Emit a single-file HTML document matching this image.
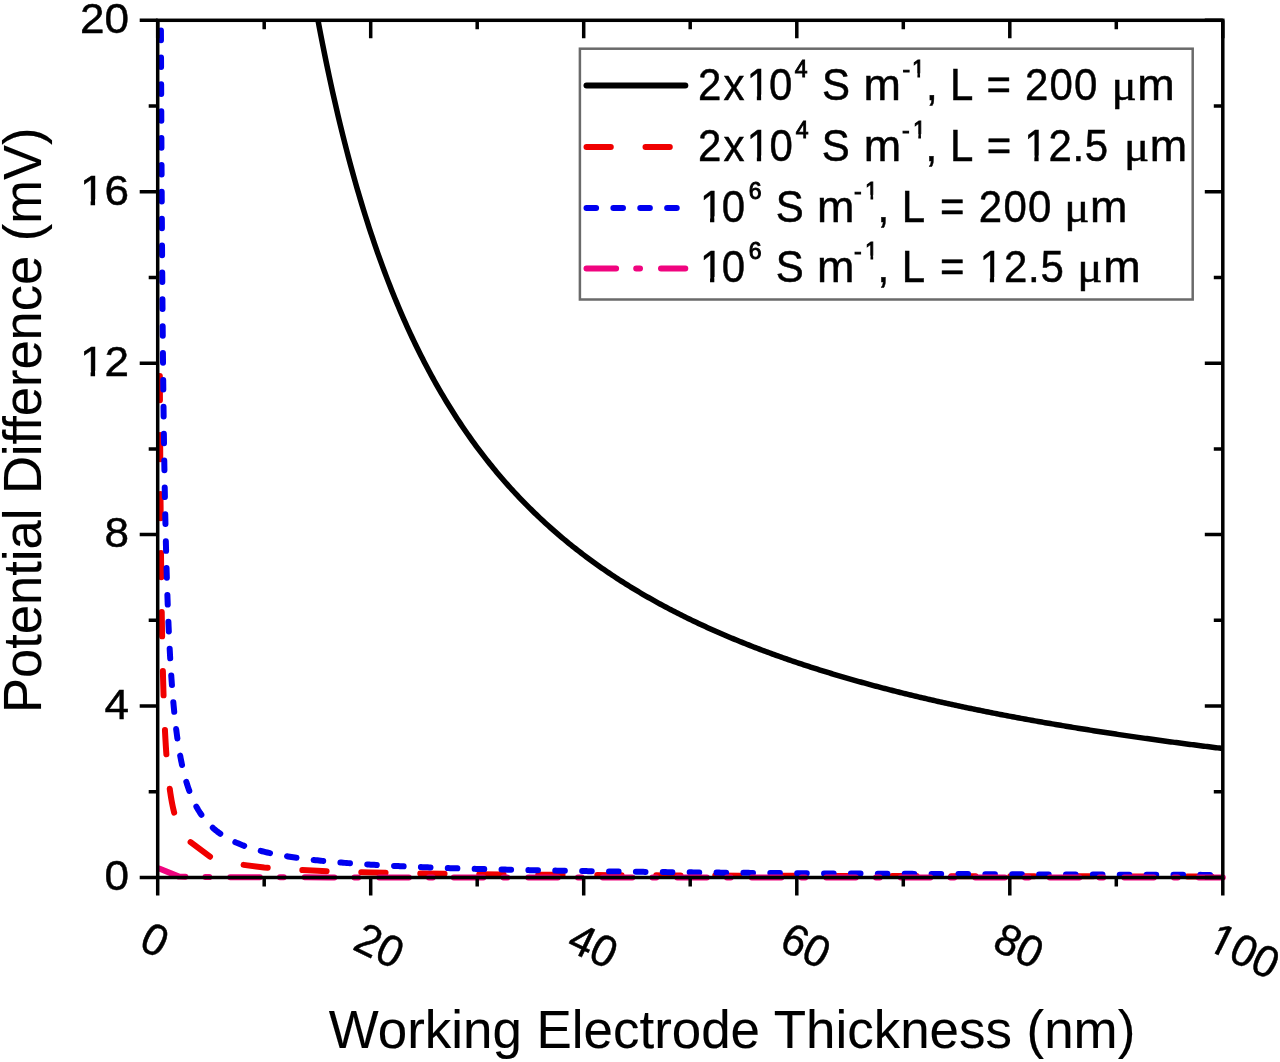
<!DOCTYPE html>
<html><head><meta charset="utf-8"><title>Potential Difference vs Working Electrode Thickness</title>
<style>html,body{margin:0;padding:0;background:#fff;}svg{display:block;}text{font-family:"Liberation Sans",Arial,sans-serif;fill:#000;stroke:#000;stroke-width:0.45px;}.sup{stroke-width:0.9px;}text.ttl{stroke-width:0.1px;}</style></head><body>
<svg width="1280" height="1062" viewBox="0 0 1280 1062">
<rect x="0" y="0" width="1280" height="1062" fill="#fff"/>
<defs><clipPath id="pc"><rect x="140" y="20.3" width="1100" height="900"/></clipPath></defs>
<g clip-path="url(#pc)">
<path d="M306.94,-43.22 L308.66,-32.70 L310.39,-22.42 L312.11,-12.37 L313.84,-2.54 L315.56,7.08 L317.29,16.48 L319.01,25.69 L320.74,34.70 L322.46,43.52 L324.19,52.16 L325.91,60.63 L327.64,68.92 L329.36,77.04 L331.09,85.01 L332.81,92.81 L334.54,100.46 L336.26,107.97 L337.98,115.33 L339.71,122.56 L341.43,129.64 L343.16,136.60 L344.88,143.42 L346.61,150.13 L348.33,156.71 L350.06,163.17 L351.78,169.52 L353.51,175.76 L355.23,181.88 L356.96,187.90 L358.68,193.82 L360.41,199.64 L362.13,205.36 L363.86,210.98 L365.58,216.51 L367.31,221.95 L369.03,227.30 L370.76,232.56 L372.48,237.74 L374.21,242.84 L375.93,247.86 L377.65,252.79 L379.38,257.65 L381.10,262.44 L382.83,267.15 L384.55,271.79 L386.28,276.36 L388.00,280.87 L389.73,285.30 L391.45,289.67 L393.18,293.98 L394.90,298.22 L396.63,302.40 L398.35,306.52 L400.08,310.59 L401.80,314.59 L403.53,318.54 L405.25,322.43 L406.98,326.28 L408.70,330.06 L410.43,333.80 L412.15,337.48 L413.88,341.12 L415.60,344.71 L417.32,348.25 L419.05,351.74 L420.77,355.19 L422.50,358.59 L424.22,361.95 L425.95,365.26 L427.67,368.54 L429.40,371.77 L431.12,374.96 L432.85,378.11 L434.57,381.22 L436.30,384.29 L438.02,387.32 L439.75,390.32 L441.47,393.28 L443.20,396.21 L444.92,399.10 L446.65,401.95 L448.37,404.78 L450.10,407.56 L451.82,410.32 L453.55,413.04 L455.27,415.74 L456.99,418.40 L458.72,421.03 L460.44,423.63 L462.17,426.20 L463.89,428.74 L465.62,431.26 L467.34,433.74 L469.07,436.20 L470.79,438.63 L472.52,441.03 L474.24,443.41 L475.97,445.77 L477.69,448.09 L479.42,450.39 L481.14,452.67 L482.87,454.93 L484.59,457.16 L486.32,459.36 L488.04,461.54 L489.77,463.71 L491.49,465.84 L493.22,467.96 L494.94,470.05 L496.66,472.13 L498.39,474.18 L500.11,476.21 L501.84,478.22 L503.56,480.21 L505.29,482.19 L507.01,484.14 L508.74,486.07 L510.46,487.98 L512.19,489.88 L513.91,491.76 L515.64,493.61 L517.36,495.46 L519.09,497.28 L520.81,499.08 L522.54,500.87 L524.26,502.65 L525.99,504.40 L527.71,506.14 L529.44,507.86 L531.16,509.57 L532.89,511.26 L534.61,512.94 L536.34,514.60 L538.06,516.24 L539.78,517.88 L541.51,519.49 L543.23,521.09 L544.96,522.68 L546.68,524.25 L548.41,525.81 L550.13,527.36 L551.86,528.89 L553.58,530.41 L555.31,531.92 L557.03,533.41 L558.76,534.89 L560.48,536.36 L562.21,537.81 L563.93,539.25 L565.66,540.68 L567.38,542.10 L569.11,543.51 L570.83,544.90 L572.56,546.28 L574.28,547.65 L576.01,549.01 L577.73,550.36 L579.45,551.70 L581.18,553.03 L582.90,554.34 L584.63,555.65 L586.35,556.95 L588.08,558.23 L589.80,559.50 L591.53,560.77 L593.25,562.02 L594.98,563.27 L596.70,564.50 L598.43,565.73 L600.15,566.94 L601.88,568.15 L603.60,569.34 L605.33,570.53 L607.05,571.71 L608.78,572.88 L610.50,574.04 L612.23,575.19 L613.95,576.33 L615.68,577.47 L617.40,578.59 L619.12,579.71 L620.85,580.82 L622.57,581.92 L624.30,583.01 L626.02,584.10 L627.75,585.17 L629.47,586.24 L631.20,587.30 L632.92,588.36 L634.65,589.40 L636.37,590.44 L638.10,591.47 L639.82,592.50 L641.55,593.51 L643.27,594.52 L645.00,595.52 L646.72,596.52 L648.45,597.50 L650.17,598.48 L651.90,599.46 L653.62,600.43 L655.35,601.39 L657.07,602.34 L658.79,603.29 L660.52,604.23 L662.24,605.16 L663.97,606.09 L665.69,607.01 L667.42,607.93 L669.14,608.83 L670.87,609.74 L672.59,610.63 L674.32,611.53 L676.04,612.41 L677.77,613.29 L679.49,614.16 L681.22,615.03 L682.94,615.89 L684.67,616.75 L686.39,617.60 L688.12,618.44 L689.84,619.28 L691.57,620.12 L693.29,620.95 L695.02,621.77 L696.74,622.59 L698.46,623.40 L700.19,624.21 L701.91,625.01 L703.64,625.81 L705.36,626.60 L707.09,627.39 L708.81,628.17 L710.54,628.95 L712.26,629.72 L713.99,630.49 L715.71,631.26 L717.44,632.02 L719.16,632.77 L720.89,633.52 L722.61,634.26 L724.34,635.00 L726.06,635.74 L727.79,636.47 L729.51,637.20 L731.24,637.92 L732.96,638.64 L734.69,639.35 L736.41,640.06 L738.14,640.77 L739.86,641.47 L741.58,642.17 L743.31,642.86 L745.03,643.55 L746.76,644.23 L748.48,644.92 L750.21,645.59 L751.93,646.27 L753.66,646.94 L755.38,647.60 L757.11,648.26 L758.83,648.92 L760.56,649.57 L762.28,650.22 L764.01,650.87 L765.73,651.51 L767.46,652.15 L769.18,652.79 L770.91,653.42 L772.63,654.05 L774.36,654.67 L776.08,655.30 L777.81,655.91 L779.53,656.53 L781.25,657.14 L782.98,657.75 L784.70,658.35 L786.43,658.95 L788.15,659.55 L789.88,660.15 L791.60,660.74 L793.33,661.32 L795.05,661.91 L796.78,662.49 L798.50,663.07 L800.23,663.65 L801.95,664.22 L803.68,664.79 L805.40,665.35 L807.13,665.92 L808.85,666.48 L810.58,667.04 L812.30,667.59 L814.03,668.14 L815.75,668.69 L817.48,669.24 L819.20,669.78 L820.92,670.32 L822.65,670.86 L824.37,671.39 L826.10,671.92 L827.82,672.45 L829.55,672.98 L831.27,673.50 L833.00,674.02 L834.72,674.54 L836.45,675.06 L838.17,675.57 L839.90,676.08 L841.62,676.59 L843.35,677.10 L845.07,677.60 L846.80,678.10 L848.52,678.60 L850.25,679.09 L851.97,679.58 L853.70,680.07 L855.42,680.56 L857.15,681.05 L858.87,681.53 L860.59,682.01 L862.32,682.49 L864.04,682.97 L865.77,683.44 L867.49,683.91 L869.22,684.38 L870.94,684.85 L872.67,685.31 L874.39,685.78 L876.12,686.24 L877.84,686.69 L879.57,687.15 L881.29,687.60 L883.02,688.06 L884.74,688.51 L886.47,688.95 L888.19,689.40 L889.92,689.84 L891.64,690.28 L893.37,690.72 L895.09,691.16 L896.82,691.59 L898.54,692.03 L900.26,692.46 L901.99,692.88 L903.71,693.31 L905.44,693.74 L907.16,694.16 L908.89,694.58 L910.61,695.00 L912.34,695.42 L914.06,695.83 L915.79,696.25 L917.51,696.66 L919.24,697.07 L920.96,697.47 L922.69,697.88 L924.41,698.28 L926.14,698.69 L927.86,699.09 L929.59,699.49 L931.31,699.88 L933.04,700.28 L934.76,700.67 L936.49,701.06 L938.21,701.45 L939.94,701.84 L941.66,702.23 L943.38,702.61 L945.11,702.99 L946.83,703.38 L948.56,703.76 L950.28,704.13 L952.01,704.51 L953.73,704.89 L955.46,705.26 L957.18,705.63 L958.91,706.00 L960.63,706.37 L962.36,706.74 L964.08,707.10 L965.81,707.46 L967.53,707.83 L969.26,708.19 L970.98,708.55 L972.71,708.90 L974.43,709.26 L976.16,709.61 L977.88,709.97 L979.61,710.32 L981.33,710.67 L983.05,711.02 L984.78,711.36 L986.50,711.71 L988.23,712.05 L989.95,712.40 L991.68,712.74 L993.40,713.08 L995.13,713.42 L996.85,713.76 L998.58,714.09 L1000.30,714.43 L1002.03,714.76 L1003.75,715.09 L1005.48,715.42 L1007.20,715.75 L1008.93,716.08 L1010.65,716.40 L1012.38,716.73 L1014.10,717.05 L1015.83,717.38 L1017.55,717.70 L1019.28,718.02 L1021.00,718.34 L1022.72,718.65 L1024.45,718.97 L1026.17,719.28 L1027.90,719.60 L1029.62,719.91 L1031.35,720.22 L1033.07,720.53 L1034.80,720.84 L1036.52,721.15 L1038.25,721.45 L1039.97,721.76 L1041.70,722.06 L1043.42,722.36 L1045.15,722.67 L1046.87,722.97 L1048.60,723.27 L1050.32,723.56 L1052.05,723.86 L1053.77,724.16 L1055.50,724.45 L1057.22,724.74 L1058.95,725.04 L1060.67,725.33 L1062.39,725.62 L1064.12,725.91 L1065.84,726.19 L1067.57,726.48 L1069.29,726.77 L1071.02,727.05 L1072.74,727.34 L1074.47,727.62 L1076.19,727.90 L1077.92,728.18 L1079.64,728.46 L1081.37,728.74 L1083.09,729.01 L1084.82,729.29 L1086.54,729.57 L1088.27,729.84 L1089.99,730.11 L1091.72,730.39 L1093.44,730.66 L1095.17,730.93 L1096.89,731.20 L1098.62,731.46 L1100.34,731.73 L1102.06,732.00 L1103.79,732.26 L1105.51,732.53 L1107.24,732.79 L1108.96,733.05 L1110.69,733.31 L1112.41,733.58 L1114.14,733.83 L1115.86,734.09 L1117.59,734.35 L1119.31,734.61 L1121.04,734.86 L1122.76,735.12 L1124.49,735.37 L1126.21,735.63 L1127.94,735.88 L1129.66,736.13 L1131.39,736.38 L1133.11,736.63 L1134.84,736.88 L1136.56,737.13 L1138.29,737.37 L1140.01,737.62 L1141.74,737.86 L1143.46,738.11 L1145.18,738.35 L1146.91,738.59 L1148.63,738.84 L1150.36,739.08 L1152.08,739.32 L1153.81,739.56 L1155.53,739.79 L1157.26,740.03 L1158.98,740.27 L1160.71,740.50 L1162.43,740.74 L1164.16,740.97 L1165.88,741.21 L1167.61,741.44 L1169.33,741.67 L1171.06,741.90 L1172.78,742.13 L1174.51,742.36 L1176.23,742.59 L1177.96,742.82 L1179.68,743.05 L1181.41,743.27 L1183.13,743.50 L1184.85,743.73 L1186.58,743.95 L1188.30,744.17 L1190.03,744.40 L1191.75,744.62 L1193.48,744.84 L1195.20,745.06 L1196.93,745.28 L1198.65,745.50 L1200.38,745.72 L1202.10,745.93 L1203.83,746.15 L1205.55,746.37 L1207.28,746.58 L1209.00,746.80 L1210.73,747.01 L1212.45,747.23 L1214.18,747.44 L1215.90,747.65 L1217.63,747.86 L1219.35,748.07 L1221.08,748.28 L1222.80,748.49" fill="none" stroke="#000" stroke-width="5.5" stroke-linejoin="round"/>
<path d="M159.83,376.04 L159.85,380.26 L159.87,384.44 L159.88,388.59 L159.90,392.70 L159.92,396.78 L159.94,400.82 L159.96,404.83 L159.98,408.81 L160.00,412.75 L160.02,416.66 L160.04,420.53 L160.06,424.38 L160.08,428.19 L160.10,431.97 L160.12,435.72 L160.14,439.43 L160.16,443.12 L160.18,446.77 L160.20,450.39 L160.22,453.99 L160.24,457.55 L160.27,461.08 L160.29,464.59 L160.31,468.06 L160.33,471.50 L160.35,474.92 L160.38,478.30 L160.40,481.66 L160.42,484.99 L160.44,488.29 L160.47,491.57 L160.49,494.81 L160.52,498.03 L160.54,501.22 L160.56,504.39 L160.59,507.53 L160.61,510.64 L160.64,513.73 L160.66,516.79 L160.69,519.82 L160.71,522.83 L160.74,525.81 L160.76,528.77 L160.79,531.70 L160.82,534.61 L160.84,537.50 L160.87,540.36 L160.90,543.19 L160.92,546.01 L160.95,548.79 L160.98,551.56 L161.01,554.30 L161.03,557.02 L161.06,559.71 L161.09,562.39 L161.12,565.04 L161.15,567.67 L161.18,570.27 L161.21,572.86 L161.24,575.42 L161.27,577.96 L161.30,580.48 L161.33,582.98 L161.36,585.46 L161.39,587.91 L161.42,590.35 L161.45,592.76 L161.48,595.16 L161.52,597.53 L161.55,599.89 L161.58,602.22 L161.61,604.54 L161.65,606.84 L161.68,609.11 L161.71,611.37 L161.75,613.61 L161.78,615.83 L161.82,618.03 L161.85,620.21 L161.89,622.38 L161.92,624.52 L161.96,626.65 L161.99,628.76 L162.03,630.85 L162.07,632.93 L162.10,634.98 L162.14,637.02 L162.18,639.05 L162.22,641.05 L162.26,643.04 L162.29,645.01 L162.33,646.97 L162.37,648.91 L162.41,650.83 L162.45,652.74 L162.49,654.63 L162.53,656.50 L162.57,658.36 L162.62,660.21 L162.66,662.03 L162.70,663.85 L162.74,665.64 L162.78,667.43 L162.83,669.19 L162.87,670.95 L162.92,672.68 L162.96,674.41 L163.00,676.11 L163.05,677.81 L163.09,679.49 L163.14,681.15 L163.19,682.80 L163.23,684.44 L163.28,686.07 L163.33,687.68 L163.38,689.27 L163.42,690.86 L163.47,692.43 L163.52,693.98 L163.57,695.53 L163.62,697.06 L163.67,698.58 L163.72,700.08 L163.77,701.57 L163.82,703.05 L163.88,704.52 L163.93,705.98 L163.98,707.42 L164.03,708.85 L164.09,710.27 L164.14,711.67 L164.20,713.07 L164.25,714.45 L164.31,715.82 L164.36,717.18 L164.42,718.53 L164.48,719.87 L164.53,721.20 L164.59,722.51 L164.65,723.81 L164.71,725.11 L164.77,726.39 L164.83,727.66 L164.89,728.92 L164.95,730.17 L165.01,731.41 L165.07,732.64 L165.14,733.86 L165.20,735.06 L165.26,736.26 L165.33,737.45 L165.39,738.63 L165.46,739.80 L165.52,740.96 L165.59,742.10 L165.66,743.24 L165.72,744.37 L165.79,745.49 L165.86,746.60 L165.93,747.70 L166.00,748.80 L166.07,749.88 L166.14,750.95 L166.21,752.02 L166.28,753.07 L166.36,754.12 L166.43,755.16 L166.51,756.19 L166.58,757.21 L166.66,758.22 L166.73,759.22 L166.81,760.22 L166.89,761.20 L166.96,762.18 L167.04,763.15 L167.12,764.11 L167.20,765.07 L167.28,766.01 L167.36,766.95 L167.44,767.88 L167.53,768.80 L167.61,769.72 L167.69,770.62 L167.78,771.52 L167.87,772.41 L167.95,773.30 L168.04,774.17 L168.13,775.04 L168.21,775.90 L168.30,776.76 L168.39,777.61 L168.48,778.45 L168.58,779.28 L168.67,780.11 L168.76,780.93 L168.85,781.74 L168.95,782.54 L169.04,783.34 L169.14,784.13 L169.24,784.92 L169.34,785.70 L169.43,786.47 L169.53,787.24 L169.63,788.00 L169.74,788.75 L169.84,789.49 L169.94,790.24 L170.04,790.97 L170.15,791.70 L170.26,792.42 L170.36,793.13 L170.47,793.84 L170.58,794.55 L170.69,795.25 L170.80,795.94 L170.91,796.62 L171.02,797.30 L171.13,797.98 L171.25,798.65 L171.36,799.31 L171.48,799.97 L171.59,800.62 L171.71,801.27 L171.83,801.91 L171.95,802.54 L172.07,803.17 L172.19,803.80 L172.32,804.42 L172.44,805.03 L172.57,805.64 L172.69,806.25 L172.82,806.85 L172.95,807.44 L173.08,808.03 L173.21,808.62 L173.34,809.20 L173.47,809.77 L173.61,810.34 L173.74,810.90 L173.88,811.46 L174.01,812.02 L174.15,812.57 L174.29,813.12 L174.43,813.66 L174.57,814.20 L174.72,814.73 L174.86,815.26 L175.01,815.78 L175.15,816.30 L175.30,816.81 L175.45,817.32 L175.60,817.83 L175.75,818.33 L175.91,818.83 L176.06,819.32 L176.22,819.81 L176.37,820.30 L176.53,820.78 L176.69,821.26 L176.85,821.73 L177.02,822.20 L177.18,822.66 L177.35,823.13 L177.51,823.58 L177.68,824.04 L177.85,824.49 L178.02,824.93 L178.19,825.37 L178.37,825.81 L178.54,826.25 L178.72,826.68 L178.90,827.11 L179.08,827.53 L179.26,827.95 L179.44,828.37 L179.63,828.78 L179.81,829.19 L180.00,829.60 L180.19,830.00 L180.38,830.40 L180.57,830.80 L180.77,831.19 L180.96,831.58 L181.16,831.96 L181.36,832.35 L181.56,832.73 L181.76,833.10 L181.96,833.48 L182.17,833.85 L182.38,834.21 L182.59,834.58 L182.80,834.94 L183.01,835.30 L183.23,835.65 L183.44,836.00 L183.66,836.35 L183.88,836.70 L184.10,837.04 L184.33,837.38 L210.95,857.44 L237.58,864.13 L264.21,867.47 L290.84,869.48 L317.46,870.81 L344.09,871.77 L370.72,872.49 L397.35,873.04 L423.97,873.49 L450.60,873.85 L477.23,874.16 L503.86,874.41 L530.48,874.63 L557.11,874.83 L583.74,874.99 L610.37,875.14 L637.00,875.27 L663.62,875.39 L690.25,875.49 L716.88,875.59 L743.50,875.68 L770.13,875.76 L796.76,875.83 L823.39,875.90 L850.01,875.96 L876.64,876.01 L903.27,876.07 L929.90,876.12 L956.52,876.16 L983.15,876.21 L1009.78,876.25 L1036.41,876.28 L1063.04,876.32 L1089.66,876.35 L1116.29,876.39 L1142.92,876.42 L1169.55,876.44 L1196.17,876.47 L1222.80,876.50" fill="none" stroke="#f00000" stroke-width="6" stroke-linejoin="round" stroke-dasharray="24.3 34.7" stroke-dashoffset="0.00" stroke-linecap="round"/>
<path d="M159.83,-408.30 L159.84,-399.60 L159.86,-390.96 L159.87,-382.38 L159.89,-373.86 L159.90,-365.40 L159.92,-356.99 L159.93,-348.64 L159.95,-340.35 L159.96,-332.11 L159.98,-323.93 L160.00,-315.80 L160.01,-307.73 L160.03,-299.71 L160.04,-291.75 L160.06,-283.84 L160.07,-275.98 L160.09,-268.18 L160.11,-260.43 L160.12,-252.74 L160.14,-245.09 L160.16,-237.50 L160.17,-229.96 L160.19,-222.46 L160.21,-215.02 L160.22,-207.63 L160.24,-200.29 L160.26,-193.00 L160.28,-185.76 L160.29,-178.57 L160.31,-171.43 L160.33,-164.33 L160.35,-157.29 L160.36,-150.29 L160.38,-143.33 L160.40,-136.43 L160.42,-129.57 L160.44,-122.76 L160.46,-115.99 L160.48,-109.27 L160.49,-102.60 L160.51,-95.97 L160.53,-89.38 L160.55,-82.84 L160.57,-76.35 L160.59,-69.90 L160.61,-63.49 L160.63,-57.12 L160.65,-50.80 L160.67,-44.52 L160.69,-38.29 L160.71,-32.09 L160.73,-25.94 L160.75,-19.83 L160.77,-13.76 L160.79,-7.73 L160.82,-1.74 L160.84,4.21 L160.86,10.11 L160.88,15.98 L160.90,21.81 L160.92,27.60 L160.94,33.34 L160.97,39.05 L160.99,44.73 L161.01,50.36 L161.03,55.95 L161.06,61.51 L161.08,67.03 L161.10,72.51 L161.13,77.96 L161.15,83.37 L161.17,88.74 L161.20,94.07 L161.22,99.37 L161.24,104.64 L161.27,109.86 L161.29,115.06 L161.32,120.21 L161.34,125.33 L161.37,130.42 L161.39,135.48 L161.42,140.49 L161.44,145.48 L161.47,150.43 L161.49,155.35 L161.52,160.23 L161.54,165.09 L161.57,169.90 L161.60,174.69 L161.62,179.44 L161.65,184.17 L161.68,188.86 L161.70,193.51 L161.73,198.14 L161.76,202.74 L161.79,207.30 L161.81,211.83 L161.84,216.34 L161.87,220.81 L161.90,225.25 L161.93,229.66 L161.96,234.04 L161.99,238.40 L162.01,242.72 L162.04,247.01 L162.07,251.28 L162.10,255.51 L162.13,259.72 L162.16,263.90 L162.19,268.05 L162.22,272.17 L162.26,276.27 L162.29,280.33 L162.32,284.37 L162.35,288.39 L162.38,292.37 L162.41,296.33 L162.45,300.26 L162.48,304.16 L162.51,308.04 L162.54,311.89 L162.58,315.72 L162.61,319.52 L162.64,323.29 L162.68,327.04 L162.71,330.77 L162.74,334.46 L162.78,338.14 L162.81,341.79 L162.85,345.41 L162.88,349.01 L162.92,352.58 L162.95,356.13 L162.99,359.66 L163.03,363.16 L163.06,366.64 L163.10,370.10 L163.13,373.53 L163.17,376.94 L163.21,380.32 L163.25,383.69 L163.28,387.03 L163.32,390.35 L163.36,393.64 L163.40,396.91 L163.44,400.16 L163.48,403.39 L163.52,406.60 L163.56,409.78 L163.60,412.95 L163.64,416.09 L163.68,419.21 L163.72,422.31 L163.76,425.39 L163.80,428.45 L163.84,431.49 L163.88,434.50 L163.93,437.50 L163.97,440.48 L164.01,443.43 L164.05,446.37 L164.10,449.28 L164.14,452.18 L164.18,455.06 L164.23,457.92 L164.27,460.75 L164.32,463.57 L164.36,466.37 L164.41,469.15 L164.45,471.91 L164.50,474.66 L164.55,477.38 L164.59,480.09 L164.64,482.78 L164.69,485.45 L164.73,488.10 L164.78,490.73 L164.83,493.35 L164.88,495.95 L164.93,498.53 L164.98,501.09 L165.03,503.64 L165.08,506.17 L165.13,508.68 L165.18,511.17 L165.23,513.65 L165.28,516.11 L165.33,518.56 L165.38,520.99 L165.44,523.40 L165.49,525.79 L165.54,528.17 L165.59,530.53 L165.65,532.88 L165.70,535.21 L165.76,537.53 L165.81,539.83 L165.87,542.11 L165.92,544.38 L165.98,546.63 L166.03,548.87 L166.09,551.09 L166.15,553.30 L166.21,555.49 L166.26,557.67 L166.32,559.84 L166.38,561.98 L166.44,564.12 L166.50,566.24 L166.56,568.34 L166.62,570.43 L166.68,572.51 L166.74,574.57 L166.80,576.62 L166.87,578.66 L166.93,580.68 L166.99,582.69 L167.05,584.68 L167.12,586.66 L167.18,588.63 L167.25,590.58 L167.31,592.52 L167.38,594.45 L167.44,596.37 L167.51,598.27 L167.58,600.16 L167.64,602.03 L167.71,603.90 L167.78,605.75 L167.85,607.59 L167.92,609.41 L167.99,611.22 L168.06,613.03 L168.13,614.81 L168.20,616.59 L168.27,618.36 L168.34,620.11 L168.41,621.85 L168.49,623.58 L168.56,625.30 L168.63,627.00 L168.71,628.70 L168.78,630.38 L168.86,632.05 L168.94,633.71 L169.01,635.36 L169.09,637.00 L169.17,638.63 L169.24,640.24 L169.32,641.85 L169.40,643.44 L169.48,645.02 L169.56,646.60 L169.64,648.16 L169.72,649.71 L169.81,651.25 L169.89,652.78 L169.97,654.30 L170.06,655.81 L170.14,657.31 L170.22,658.80 L170.31,660.28 L170.40,661.75 L170.48,663.21 L170.57,664.66 L170.66,666.10 L170.74,667.53 L170.83,668.95 L170.92,670.36 L171.01,671.76 L171.10,673.15 L171.19,674.53 L171.29,675.91 L171.38,677.27 L171.47,678.62 L171.57,679.97 L171.66,681.30 L171.76,682.63 L171.85,683.95 L171.95,685.26 L172.04,686.56 L172.14,687.85 L172.24,689.13 L172.34,690.41 L172.44,691.67 L172.54,692.93 L172.64,694.18 L172.74,695.42 L172.85,696.65 L172.95,697.87 L173.05,699.09 L173.16,700.30 L173.26,701.49 L173.37,702.68 L173.47,703.87 L173.58,705.04 L173.69,706.21 L173.80,707.37 L173.91,708.52 L174.02,709.66 L174.13,710.80 L174.24,711.92 L174.35,713.04 L174.47,714.16 L174.58,715.26 L174.70,716.36 L174.81,717.45 L174.93,718.53 L175.05,719.61 L175.17,720.67 L175.28,721.73 L175.40,722.79 L175.52,723.83 L175.65,724.87 L175.77,725.91 L175.89,726.93 L176.02,727.95 L176.14,728.96 L176.27,729.97 L176.39,730.96 L176.52,731.96 L176.65,732.94 L176.78,733.92 L176.91,734.89 L177.04,735.85 L177.17,736.81 L177.30,737.76 L177.43,738.71 L177.57,739.65 L177.70,740.58 L177.84,741.51 L177.98,742.43 L178.12,743.34 L178.26,744.25 L178.39,745.15 L178.54,746.04 L178.68,746.93 L178.82,747.82 L178.96,748.69 L179.11,749.56 L179.26,750.43 L179.40,751.29 L179.55,752.14 L179.70,752.99 L179.85,753.83 L180.00,754.67 L180.15,755.50 L180.30,756.33 L180.46,757.15 L180.61,757.96 L180.77,758.77 L180.93,759.57 L181.08,760.37 L181.24,761.16 L181.40,761.95 L181.57,762.73 L181.73,763.51 L181.89,764.28 L182.06,765.04 L182.22,765.80 L182.39,766.56 L182.56,767.31 L182.73,768.06 L182.90,768.80 L183.07,769.53 L183.24,770.26 L183.42,770.99 L183.59,771.71 L183.77,772.42 L183.94,773.13 L184.12,773.84 L184.30,774.54 L184.48,775.24 L184.67,775.93 L184.85,776.62 L185.03,777.30 L185.22,777.98 L185.41,778.65 L185.60,779.32 L185.79,779.98 L185.98,780.64 L186.17,781.30 L186.36,781.95 L186.56,782.59 L186.76,783.24 L186.95,783.87 L187.15,784.51 L187.35,785.14 L187.56,785.76 L187.76,786.38 L187.96,787.00 L188.17,787.61 L188.38,788.22 L188.59,788.82 L188.80,789.42 L189.01,790.02 L189.22,790.61 L189.44,791.20 L189.65,791.78 L191.38,796.17 L193.10,800.13 L194.83,803.73 L196.55,807.00 L198.28,810.00 L200.00,812.75 L201.73,815.29 L203.45,817.63 L205.18,819.81 L206.90,821.83 L208.63,823.72 L210.35,825.48 L212.08,827.13 L213.80,828.68 L215.52,830.13 L217.25,831.50 L218.97,832.80 L220.70,834.02 L222.42,835.18 L224.15,836.28 L225.87,837.32 L227.60,838.31 L229.32,839.26 L231.05,840.16 L232.77,841.02 L234.50,841.83 L236.22,842.62 L237.95,843.37 L239.67,844.09 L241.40,844.77 L243.12,845.44 L244.85,846.07 L246.57,846.68 L248.30,847.27 L250.02,847.83 L251.75,848.38 L253.47,848.90 L255.19,849.41 L256.92,849.89 L258.64,850.37 L260.37,850.82 L262.09,851.26 L263.82,851.69 L265.54,852.10 L267.27,852.50 L268.99,852.89 L270.72,853.26 L272.44,853.63 L274.17,853.98 L275.89,854.33 L277.62,854.66 L279.34,854.98 L281.07,855.30 L282.79,855.60 L284.52,855.90 L286.24,856.19 L287.97,856.47 L289.69,856.75 L291.42,857.02 L293.14,857.28 L294.86,857.53 L296.59,857.78 L298.31,858.02 L300.04,858.26 L301.76,858.49 L303.49,858.71 L305.21,858.93 L306.94,859.15 L308.66,859.36 L310.39,859.56 L312.11,859.76 L313.84,859.96 L315.56,860.15 L317.29,860.34 L319.01,860.52 L320.74,860.70 L322.46,860.88 L324.19,861.05 L325.91,861.22 L327.64,861.38 L329.36,861.54 L331.09,861.70 L332.81,861.86 L334.54,862.01 L336.26,862.16 L337.98,862.31 L339.71,862.45 L341.43,862.59 L343.16,862.73 L344.88,862.87 L346.61,863.00 L348.33,863.13 L350.06,863.26 L351.78,863.39 L353.51,863.51 L355.23,863.63 L356.96,863.75 L358.68,863.87 L360.41,863.99 L362.13,864.10 L363.86,864.21 L365.58,864.32 L367.31,864.43 L369.03,864.54 L370.76,864.64 L372.48,864.75 L374.21,864.85 L375.93,864.95 L377.65,865.05 L379.38,865.14 L381.10,865.24 L382.83,865.33 L384.55,865.43 L386.28,865.52 L388.00,865.61 L389.73,865.70 L391.45,865.78 L393.18,865.87 L394.90,865.95 L396.63,866.04 L398.35,866.12 L400.08,866.20 L401.80,866.28 L403.53,866.36 L405.25,866.44 L406.98,866.51 L408.70,866.59 L410.43,866.66 L412.15,866.74 L413.88,866.81 L415.60,866.88 L417.32,866.95 L419.05,867.02 L420.77,867.09 L422.50,867.16 L424.22,867.22 L425.95,867.29 L427.67,867.35 L429.40,867.42 L431.12,867.48 L432.85,867.55 L434.57,867.61 L436.30,867.67 L438.02,867.73 L439.75,867.79 L441.47,867.85 L443.20,867.91 L444.92,867.96 L446.65,868.02 L448.37,868.08 L450.10,868.13 L451.82,868.19 L453.55,868.24 L455.27,868.30 L456.99,868.35 L458.72,868.40 L460.44,868.45 L462.17,868.50 L463.89,868.55 L465.62,868.60 L467.34,868.65 L469.07,868.70 L470.79,868.75 L472.52,868.80 L474.24,868.85 L475.97,868.89 L477.69,868.94 L479.42,868.99 L481.14,869.03 L482.87,869.08 L484.59,869.12 L486.32,869.17 L488.04,869.21 L489.77,869.25 L491.49,869.29 L493.22,869.34 L494.94,869.38 L496.66,869.42 L498.39,869.46 L500.11,869.50 L501.84,869.54 L503.56,869.58 L505.29,869.62 L507.01,869.66 L508.74,869.70 L510.46,869.74 L512.19,869.77 L513.91,869.81 L515.64,869.85 L517.36,869.88 L519.09,869.92 L520.81,869.96 L522.54,869.99 L524.26,870.03 L525.99,870.06 L527.71,870.10 L529.44,870.13 L531.16,870.17 L532.89,870.20 L534.61,870.23 L536.34,870.27 L538.06,870.30 L539.78,870.33 L541.51,870.36 L543.23,870.40 L544.96,870.43 L546.68,870.46 L548.41,870.49 L550.13,870.52 L551.86,870.55 L553.58,870.58 L555.31,870.61 L557.03,870.64 L558.76,870.67 L560.48,870.70 L562.21,870.73 L563.93,870.76 L565.66,870.79 L567.38,870.81 L569.11,870.84 L570.83,870.87 L572.56,870.90 L574.28,870.93 L576.01,870.95 L577.73,870.98 L579.45,871.01 L581.18,871.03 L582.90,871.06 L584.63,871.08 L586.35,871.11 L588.08,871.14 L589.80,871.16 L591.53,871.19 L593.25,871.21 L594.98,871.24 L596.70,871.26 L598.43,871.29 L600.15,871.31 L601.88,871.33 L603.60,871.36 L605.33,871.38 L607.05,871.40 L608.78,871.43 L610.50,871.45 L612.23,871.47 L613.95,871.50 L615.68,871.52 L617.40,871.54 L619.12,871.56 L620.85,871.59 L622.57,871.61 L624.30,871.63 L626.02,871.65 L627.75,871.67 L629.47,871.69 L631.20,871.72 L632.92,871.74 L634.65,871.76 L636.37,871.78 L638.10,871.80 L639.82,871.82 L641.55,871.84 L643.27,871.86 L645.00,871.88 L646.72,871.90 L648.45,871.92 L650.17,871.94 L651.90,871.96 L653.62,871.98 L655.35,872.00 L657.07,872.02 L658.79,872.03 L660.52,872.05 L662.24,872.07 L663.97,872.09 L665.69,872.11 L667.42,872.13 L669.14,872.14 L670.87,872.16 L672.59,872.18 L674.32,872.20 L676.04,872.22 L677.77,872.23 L679.49,872.25 L681.22,872.27 L682.94,872.29 L684.67,872.30 L686.39,872.32 L688.12,872.34 L689.84,872.35 L691.57,872.37 L693.29,872.39 L695.02,872.40 L696.74,872.42 L698.46,872.43 L700.19,872.45 L701.91,872.47 L703.64,872.48 L705.36,872.50 L707.09,872.51 L708.81,872.53 L710.54,872.55 L712.26,872.56 L713.99,872.58 L715.71,872.59 L717.44,872.61 L719.16,872.62 L720.89,872.64 L722.61,872.65 L724.34,872.67 L726.06,872.68 L727.79,872.70 L729.51,872.71 L731.24,872.72 L732.96,872.74 L734.69,872.75 L736.41,872.77 L738.14,872.78 L739.86,872.80 L741.58,872.81 L743.31,872.82 L745.03,872.84 L746.76,872.85 L748.48,872.86 L750.21,872.88 L751.93,872.89 L753.66,872.90 L755.38,872.92 L757.11,872.93 L758.83,872.94 L760.56,872.96 L762.28,872.97 L764.01,872.98 L765.73,873.00 L767.46,873.01 L769.18,873.02 L770.91,873.03 L772.63,873.05 L774.36,873.06 L776.08,873.07 L777.81,873.08 L779.53,873.10 L781.25,873.11 L782.98,873.12 L784.70,873.13 L786.43,873.14 L788.15,873.16 L789.88,873.17 L791.60,873.18 L793.33,873.19 L795.05,873.20 L796.78,873.21 L798.50,873.23 L800.23,873.24 L801.95,873.25 L803.68,873.26 L805.40,873.27 L807.13,873.28 L808.85,873.29 L810.58,873.30 L812.30,873.32 L814.03,873.33 L815.75,873.34 L817.48,873.35 L819.20,873.36 L820.92,873.37 L822.65,873.38 L824.37,873.39 L826.10,873.40 L827.82,873.41 L829.55,873.42 L831.27,873.43 L833.00,873.44 L834.72,873.45 L836.45,873.46 L838.17,873.47 L839.90,873.49 L841.62,873.50 L843.35,873.51 L845.07,873.52 L846.80,873.53 L848.52,873.54 L850.25,873.55 L851.97,873.55 L853.70,873.56 L855.42,873.57 L857.15,873.58 L858.87,873.59 L860.59,873.60 L862.32,873.61 L864.04,873.62 L865.77,873.63 L867.49,873.64 L869.22,873.65 L870.94,873.66 L872.67,873.67 L874.39,873.68 L876.12,873.69 L877.84,873.70 L879.57,873.71 L881.29,873.71 L883.02,873.72 L884.74,873.73 L886.47,873.74 L888.19,873.75 L889.92,873.76 L891.64,873.77 L893.37,873.78 L895.09,873.79 L896.82,873.79 L898.54,873.80 L900.26,873.81 L901.99,873.82 L903.71,873.83 L905.44,873.84 L907.16,873.85 L908.89,873.85 L910.61,873.86 L912.34,873.87 L914.06,873.88 L915.79,873.89 L917.51,873.90 L919.24,873.90 L920.96,873.91 L922.69,873.92 L924.41,873.93 L926.14,873.94 L927.86,873.94 L929.59,873.95 L931.31,873.96 L933.04,873.97 L934.76,873.98 L936.49,873.98 L938.21,873.99 L939.94,874.00 L941.66,874.01 L943.38,874.01 L945.11,874.02 L946.83,874.03 L948.56,874.04 L950.28,874.04 L952.01,874.05 L953.73,874.06 L955.46,874.07 L957.18,874.07 L958.91,874.08 L960.63,874.09 L962.36,874.10 L964.08,874.10 L965.81,874.11 L967.53,874.12 L969.26,874.12 L970.98,874.13 L972.71,874.14 L974.43,874.15 L976.16,874.15 L977.88,874.16 L979.61,874.17 L981.33,874.17 L983.05,874.18 L984.78,874.19 L986.50,874.20 L988.23,874.20 L989.95,874.21 L991.68,874.22 L993.40,874.22 L995.13,874.23 L996.85,874.24 L998.58,874.24 L1000.30,874.25 L1002.03,874.26 L1003.75,874.26 L1005.48,874.27 L1007.20,874.28 L1008.93,874.28 L1010.65,874.29 L1012.38,874.30 L1014.10,874.30 L1015.83,874.31 L1017.55,874.31 L1019.28,874.32 L1021.00,874.33 L1022.72,874.33 L1024.45,874.34 L1026.17,874.35 L1027.90,874.35 L1029.62,874.36 L1031.35,874.36 L1033.07,874.37 L1034.80,874.38 L1036.52,874.38 L1038.25,874.39 L1039.97,874.40 L1041.70,874.40 L1043.42,874.41 L1045.15,874.41 L1046.87,874.42 L1048.60,874.43 L1050.32,874.43 L1052.05,874.44 L1053.77,874.44 L1055.50,874.45 L1057.22,874.46 L1058.95,874.46 L1060.67,874.47 L1062.39,874.47 L1064.12,874.48 L1065.84,874.48 L1067.57,874.49 L1069.29,874.50 L1071.02,874.50 L1072.74,874.51 L1074.47,874.51 L1076.19,874.52 L1077.92,874.52 L1079.64,874.53 L1081.37,874.53 L1083.09,874.54 L1084.82,874.55 L1086.54,874.55 L1088.27,874.56 L1089.99,874.56 L1091.72,874.57 L1093.44,874.57 L1095.17,874.58 L1096.89,874.58 L1098.62,874.59 L1100.34,874.59 L1102.06,874.60 L1103.79,874.60 L1105.51,874.61 L1107.24,874.62 L1108.96,874.62 L1110.69,874.63 L1112.41,874.63 L1114.14,874.64 L1115.86,874.64 L1117.59,874.65 L1119.31,874.65 L1121.04,874.66 L1122.76,874.66 L1124.49,874.67 L1126.21,874.67 L1127.94,874.68 L1129.66,874.68 L1131.39,874.69 L1133.11,874.69 L1134.84,874.70 L1136.56,874.70 L1138.29,874.71 L1140.01,874.71 L1141.74,874.72 L1143.46,874.72 L1145.18,874.73 L1146.91,874.73 L1148.63,874.74 L1150.36,874.74 L1152.08,874.75 L1153.81,874.75 L1155.53,874.76 L1157.26,874.76 L1158.98,874.76 L1160.71,874.77 L1162.43,874.77 L1164.16,874.78 L1165.88,874.78 L1167.61,874.79 L1169.33,874.79 L1171.06,874.80 L1172.78,874.80 L1174.51,874.81 L1176.23,874.81 L1177.96,874.82 L1179.68,874.82 L1181.41,874.82 L1183.13,874.83 L1184.85,874.83 L1186.58,874.84 L1188.30,874.84 L1190.03,874.85 L1191.75,874.85 L1193.48,874.86 L1195.20,874.86 L1196.93,874.86 L1198.65,874.87 L1200.38,874.87 L1202.10,874.88 L1203.83,874.88 L1205.55,874.89 L1207.28,874.89 L1209.00,874.89 L1210.73,874.90 L1212.45,874.90 L1214.18,874.91 L1215.90,874.91 L1217.63,874.92 L1219.35,874.92 L1221.08,874.92 L1222.80,874.93" fill="none" stroke="#0000f0" stroke-width="6" stroke-linejoin="round" stroke-dasharray="9.6 17.28" stroke-dashoffset="18.13" stroke-linecap="round"/>
<path d="M159.83,868.71 L179.00,876.62 L200.30,877.06 L221.61,877.21 L242.91,877.28 L264.21,877.32 L285.51,877.35 L306.81,877.37 L328.12,877.39 L349.42,877.40 L370.72,877.41 L392.02,877.42 L413.32,877.43 L434.63,877.43 L455.93,877.44 L477.23,877.44 L498.53,877.45 L519.83,877.45 L541.14,877.45 L562.44,877.45 L583.74,877.46 L605.04,877.46 L626.34,877.46 L647.65,877.46 L668.95,877.46 L690.25,877.46 L711.55,877.47 L732.85,877.47 L754.16,877.47 L775.46,877.47 L796.76,877.47 L818.06,877.47 L839.36,877.47 L860.67,877.47 L881.97,877.47 L903.27,877.47 L924.57,877.48 L945.87,877.48 L967.18,877.48 L988.48,877.48 L1009.78,877.48 L1031.08,877.48 L1052.38,877.48 L1073.69,877.48 L1094.99,877.48 L1116.29,877.48 L1137.59,877.48 L1158.89,877.48 L1180.20,877.48 L1201.50,877.48 L1222.80,877.48" fill="none" stroke="#f0047f" stroke-width="6" stroke-linejoin="round" stroke-dasharray="29.6 20.1 3.8 21" stroke-dashoffset="2.50" stroke-linecap="round"/>
</g>
<g stroke="#000" stroke-width="3.5" fill="none" stroke-linecap="butt">
<rect x="157.7" y="20.3" width="1065.1" height="857.2"/>
<path d="M157.7,877.5V895.5 M157.7,20.3V38.3 M264.2,877.5V886.5 M264.2,20.3V29.3 M370.7,877.5V895.5 M370.7,20.3V38.3 M477.2,877.5V886.5 M477.2,20.3V29.3 M583.7,877.5V895.5 M583.7,20.3V38.3 M690.2,877.5V886.5 M690.2,20.3V29.3 M796.8,877.5V895.5 M796.8,20.3V38.3 M903.3,877.5V886.5 M903.3,20.3V29.3 M1009.8,877.5V895.5 M1009.8,20.3V38.3 M1116.3,877.5V886.5 M1116.3,20.3V29.3 M1222.8,877.5V895.5 M1222.8,20.3V38.3 M157.7,877.5H139.7 M1222.8,877.5H1204.8 M157.7,791.8H148.7 M1222.8,791.8H1213.8 M157.7,706.1H139.7 M1222.8,706.1H1204.8 M157.7,620.3H148.7 M1222.8,620.3H1213.8 M157.7,534.6H139.7 M1222.8,534.6H1204.8 M157.7,448.9H148.7 M1222.8,448.9H1213.8 M157.7,363.2H139.7 M1222.8,363.2H1204.8 M157.7,277.5H148.7 M1222.8,277.5H1213.8 M157.7,191.7H139.7 M1222.8,191.7H1204.8 M157.7,106.0H148.7 M1222.8,106.0H1213.8 M157.7,20.3H139.7 M1222.8,20.3H1204.8"/>
</g>
<g transform="translate(104.47,890.30) scale(1.050,1.030)">
<text x="0" y="0" font-size="42">0</text>
</g>
<g transform="translate(104.47,718.86) scale(1.050,1.030)">
<text x="0" y="0" font-size="42">4</text>
</g>
<g transform="translate(104.47,547.42) scale(1.050,1.030)">
<text x="0" y="0" font-size="42">8</text>
</g>
<g transform="translate(79.94,375.98) scale(1.050,1.030)">
<text x="0" y="0" font-size="42">12</text>
<rect x="1.54" y="-5.08" width="8.61" height="7.28" fill="#fff"/><rect x="14.42" y="-5.08" width="8.40" height="7.28" fill="#fff"/>
</g>
<g transform="translate(79.94,204.54) scale(1.050,1.030)">
<text x="0" y="0" font-size="42">16</text>
<rect x="1.54" y="-5.08" width="8.61" height="7.28" fill="#fff"/><rect x="14.42" y="-5.08" width="8.40" height="7.28" fill="#fff"/>
</g>
<g transform="translate(79.94,33.10) scale(1.050,1.030)">
<text x="0" y="0" font-size="42">20</text>
</g>
<g transform="translate(155.2,939.1) rotate(26) scale(1,1.03)">
<text x="0" y="15.4" font-size="43" text-anchor="middle">0</text>
</g>
<g transform="translate(379.7,945.0) rotate(26) scale(1,1.03)">
<text x="0" y="15.4" font-size="43" text-anchor="middle">20</text>
</g>
<g transform="translate(593.5,945.1) rotate(26) scale(1,1.03)">
<text x="0" y="15.4" font-size="43" text-anchor="middle">40</text>
</g>
<g transform="translate(806.3,945.0) rotate(26) scale(1,1.03)">
<text x="0" y="15.4" font-size="43" text-anchor="middle">60</text>
</g>
<g transform="translate(1019.1,944.9) rotate(26) scale(1,1.03)">
<text x="0" y="15.4" font-size="43" text-anchor="middle">80</text>
</g>
<g transform="translate(1244.4,950.3) rotate(26) scale(1,1.03)">
<text x="0" y="15.4" font-size="43" text-anchor="middle">100</text>
<rect x="-34.25" y="10.25" width="8.79" height="7.35" fill="#fff"/><rect x="-21.11" y="10.25" width="8.57" height="7.35" fill="#fff"/>
</g>
<text class="ttl" transform="translate(328.8,1047.5) scale(1,1.035)" x="0" y="0" font-size="52" textLength="806.5" lengthAdjust="spacingAndGlyphs">Working Electrode Thickness (nm)</text>
<text class="ttl" transform="translate(40.5,713) rotate(-90) scale(1,1.04)" x="0" y="0" font-size="52" textLength="585.6" lengthAdjust="spacingAndGlyphs">Potential Difference (mV)</text>
<rect x="579.9" y="48.7" width="612.8" height="250.8" fill="#fff" stroke="#6a6a6a" stroke-width="2.5"/>
<path d="M586.5,85.6H685.3" stroke="#000" stroke-width="6" stroke-linecap="round"/>
<path d="M586.5,147.0H685.3" stroke="#f00000" stroke-width="6" stroke-linecap="round" stroke-dasharray="24.3 34.7"/>
<path d="M586.5,208.0H685.3" stroke="#0000f0" stroke-width="6" stroke-linecap="round" stroke-dasharray="9.6 17.28"/>
<path d="M586.5,268.6H685.3" stroke="#f0047f" stroke-width="6" stroke-linecap="round" stroke-dasharray="29.6 20.1 3.8 21"/>
<g transform="translate(0,100.00) scale(1,1.045) translate(0,-100.00)">
<text y="100.0" font-size="42"><tspan x="698.0 723.5 746.7 769.0" y="100.0">2x10</tspan><tspan x="794.7" y="78.0" font-size="23" class="sup">4</tspan><tspan x="808.5 821.9 851.3" y="100.0"> S </tspan><tspan x="863.5" y="100.0" textLength="37.43" lengthAdjust="spacingAndGlyphs">m</tspan><tspan x="902.6 912.0" y="78.0" font-size="23" class="sup">-1</tspan><tspan x="926.0 938.0 950.1 974.1 986.5 1012.2 1024.9 1049.5 1074.0 1099.3" y="100.0">, L = 200 </tspan><tspan x="1111.5" y="100.0" textLength="25.22" lengthAdjust="spacingAndGlyphs" style="font-family:'Liberation Serif',serif">μ</tspan><tspan x="1137.3" y="100.0" textLength="37.43" lengthAdjust="spacingAndGlyphs">m</tspan></text>
<rect x="748.24" y="94.92" width="8.61" height="7.28" fill="#fff"/><rect x="761.12" y="94.92" width="8.40" height="7.28" fill="#fff"/>
<rect x="912.21" y="74.41" width="5.19" height="5.79" fill="#fff"/><rect x="920.06" y="74.41" width="5.07" height="5.79" fill="#fff"/>
</g>
<g transform="translate(0,160.80) scale(1,1.045) translate(0,-160.80)">
<text y="160.8" font-size="42"><tspan x="698.0 723.5 746.7 769.6" y="160.8">2x10</tspan><tspan x="795.7" y="138.8" font-size="23" class="sup">4</tspan><tspan x="809.1 821.7 851.4" y="160.8"> S </tspan><tspan x="863.8" y="160.8" textLength="37.43" lengthAdjust="spacingAndGlyphs">m</tspan><tspan x="902.0 912.9" y="138.8" font-size="23" class="sup">-1</tspan><tspan x="925.5 937.7 950.1 974.2 986.7 1011.9 1024.2 1048.4 1072.5 1084.8 1110.9" y="160.8">, L = 12.5 </tspan><tspan x="1124.0" y="160.8" textLength="25.22" lengthAdjust="spacingAndGlyphs" style="font-family:'Liberation Serif',serif">μ</tspan><tspan x="1149.7" y="160.8" textLength="37.43" lengthAdjust="spacingAndGlyphs">m</tspan></text>
<rect x="748.24" y="155.72" width="8.61" height="7.28" fill="#fff"/><rect x="761.12" y="155.72" width="8.40" height="7.28" fill="#fff"/>
<rect x="913.11" y="135.21" width="5.19" height="5.79" fill="#fff"/><rect x="920.96" y="135.21" width="5.07" height="5.79" fill="#fff"/>
<rect x="1025.74" y="155.72" width="8.61" height="7.28" fill="#fff"/><rect x="1038.62" y="155.72" width="8.40" height="7.28" fill="#fff"/>
</g>
<g transform="translate(0,221.60) scale(1,1.045) translate(0,-221.60)">
<text y="221.6" font-size="42"><tspan x="699.9 721.8" y="221.6">10</tspan><tspan x="748.7" y="199.6" font-size="23" class="sup">6</tspan><tspan x="762.5 775.7 805.0" y="221.6"> S </tspan><tspan x="816.9" y="221.6" textLength="37.43" lengthAdjust="spacingAndGlyphs">m</tspan><tspan x="854.0 865.1" y="199.6" font-size="23" class="sup">-1</tspan><tspan x="877.5 889.5 901.8 926.7 940.0 965.9 978.8 1003.4 1028.0 1052.6" y="221.6">, L = 200 </tspan><tspan x="1064.2" y="221.6" textLength="25.22" lengthAdjust="spacingAndGlyphs" style="font-family:'Liberation Serif',serif">μ</tspan><tspan x="1089.9" y="221.6" textLength="37.43" lengthAdjust="spacingAndGlyphs">m</tspan></text>
<rect x="701.44" y="216.52" width="8.61" height="7.28" fill="#fff"/><rect x="714.32" y="216.52" width="8.40" height="7.28" fill="#fff"/>
<rect x="865.31" y="196.01" width="5.19" height="5.79" fill="#fff"/><rect x="873.16" y="196.01" width="5.07" height="5.79" fill="#fff"/>
</g>
<g transform="translate(0,282.40) scale(1,1.045) translate(0,-282.40)">
<text y="282.4" font-size="42"><tspan x="699.9 721.8" y="282.4">10</tspan><tspan x="748.7" y="260.4" font-size="23" class="sup">6</tspan><tspan x="762.5 775.7 805.0" y="282.4"> S </tspan><tspan x="816.9" y="282.4" textLength="37.43" lengthAdjust="spacingAndGlyphs">m</tspan><tspan x="854.0 865.1" y="260.4" font-size="23" class="sup">-1</tspan><tspan x="877.5 889.5 901.8 926.7 940.0 966.3 979.7 1004.0 1028.1 1040.5 1065.4" y="282.4">, L = 12.5 </tspan><tspan x="1077.3" y="282.4" textLength="25.22" lengthAdjust="spacingAndGlyphs" style="font-family:'Liberation Serif',serif">μ</tspan><tspan x="1103.3" y="282.4" textLength="37.43" lengthAdjust="spacingAndGlyphs">m</tspan></text>
<rect x="701.44" y="277.32" width="8.61" height="7.28" fill="#fff"/><rect x="714.32" y="277.32" width="8.40" height="7.28" fill="#fff"/>
<rect x="865.31" y="256.81" width="5.19" height="5.79" fill="#fff"/><rect x="873.16" y="256.81" width="5.07" height="5.79" fill="#fff"/>
<rect x="981.24" y="277.32" width="8.61" height="7.28" fill="#fff"/><rect x="994.12" y="277.32" width="8.40" height="7.28" fill="#fff"/>
</g>
</svg></body></html>
